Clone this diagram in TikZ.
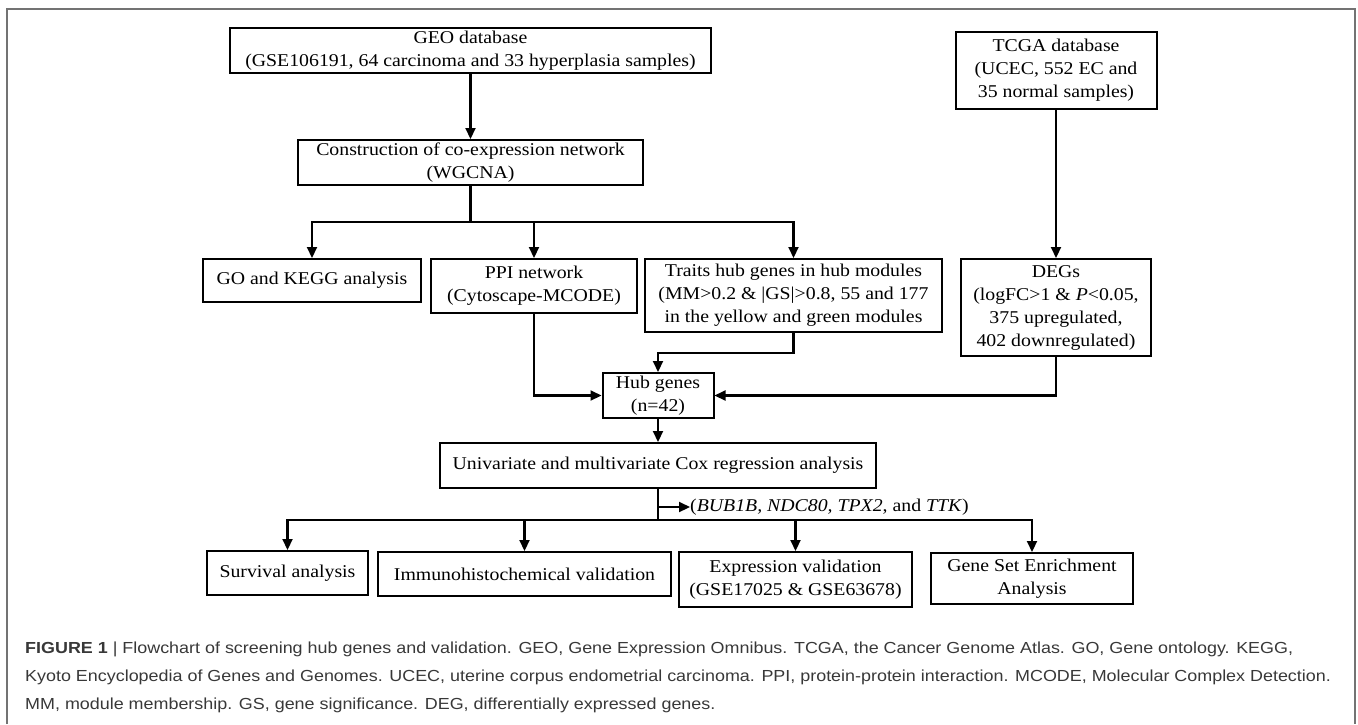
\documentclass[tikz,border=0pt]{standalone}
\usepackage{fontspec}
\setmainfont{Liberation Serif}[FakeStretch=1.1]
\setsansfont{Liberation Sans}[FakeStretch=1.12]
\usetikzlibrary{positioning,arrows.meta}

\begin{document}
\begin{tikzpicture}[x=1pt, y=-1pt,
    every node/.style={font=\fontsize{18}{23}\selectfont},
    box/.style={draw, line width=2pt, align=center, inner sep=0pt},
    link/.style={line width=2.1pt},
    arr/.style={link, -{Triangle[length=11pt,width=10pt]}},
    frame/.style={draw=black!55, line width=1.5pt},
    caption/.style={anchor=base west, inner sep=0pt, text=black!78,
        font=\sffamily\fontsize{16}{19}\selectfont}]
\useasboundingbox (0,0) rectangle (1358,724);
\draw[frame] (7,724) -- (7,9) -- (1355,9) -- (1355,724);

\node[box, minimum width=481pt, minimum height=45pt] (geo) at (470.5,50.5)
    {GEO database\\(GSE106191, 64 carcinoma and 33 hyperplasia samples)};
\node[box, minimum width=345pt, minimum height=45pt] (wgcna) at (470.5,162.5)
    {Construction of co-expression network\\(WGCNA)};
\node[box, minimum width=201pt, minimum height=77pt] (tcga) at (1056,70.5)
    {TCGA database\\(UCEC, 552 EC and\\35 normal samples)};
\node[box, minimum width=218pt, minimum height=43pt] (gokegg) at (312,280.5)
    {GO and KEGG analysis};
\node[box, minimum width=206pt, minimum height=54pt] (ppi) at (534,286)
    {PPI network\\(Cytoscape-MCODE)};
\node[box, minimum width=297pt, minimum height=73pt] (traits) at (793.5,295.5)
    {Traits hub genes in hub modules\\(MM>0.2 \& |GS|>0.8, 55 and 177\\in the yellow and green modules};
\node[box, minimum width=190pt, minimum height=97pt] (degs) at (1056,307.5)
    {DEGs\\(logFC>1 \& \textit{P}<0.05,\\375 upregulated,\\402 downregulated)};
\node[box, minimum width=111pt, minimum height=45pt] (hub) at (658,395.5)
    {Hub genes\\(n=42)};
\node[box, minimum width=436pt, minimum height=45pt] (cox) at (658,465.5)
    {Univariate and multivariate Cox regression analysis};
\node[box, minimum width=161pt, minimum height=44pt] (surv) at (287.5,573)
    {Survival analysis};
\node[box, minimum width=293pt, minimum height=44pt] (ihc) at (524.5,574)
    {Immunohistochemical validation};
\node[box, minimum width=233pt, minimum height=55pt] (expr) at (795.5,579.5)
    {Expression validation\\(GSE17025 \& GSE63678)};
\node[box, minimum width=202pt, minimum height=51pt] (gsea) at (1032,578.5)
    {Gene Set Enrichment\\Analysis};
\node[anchor=west, inner sep=0pt] (genes) at (690,507)
    {(\textit{BUB1B, NDC80, TPX2}, and \textit{TTK})};

\coordinate (split1) at (470.5,222);
\coordinate (split2) at (658,520);
\coordinate (tap) at (658,507);

\draw[arr] (geo) -- (wgcna);
\draw[link] (wgcna) -- (split1);
\foreach \n in {gokegg,ppi,traits}
    \draw[arr] (split1) -| (\n);
\draw[arr] (tcga) -- (degs);
\draw[arr] (traits.south) -- ++(0,20) -| (hub);
\draw[arr] (ppi) |- (hub);
\draw[arr] (degs) |- (hub);
\draw[arr] (hub) -- (cox);
\draw[link] (cox) -- (split2);
\foreach \n in {surv,ihc,expr,gsea}
    \draw[arr] (split2) -| (\n);
\draw[arr] (tap) -- (genes);

\node[caption] (cap1) at (25,653) {\textbf{FIGURE 1} | Flowchart of screening hub genes and validation. GEO, Gene Expression Omnibus. TCGA, the Cancer Genome Atlas. GO, Gene ontology. KEGG,};
\node[caption] (cap2) at (25,681) {Kyoto Encyclopedia of Genes and Genomes. UCEC, uterine corpus endometrial carcinoma. PPI, protein-protein interaction. MCODE, Molecular Complex Detection.};
\node[caption] (cap3) at (25,709) {MM, module membership. GS, gene significance. DEG, differentially expressed genes.};
\end{tikzpicture}
\end{document}
